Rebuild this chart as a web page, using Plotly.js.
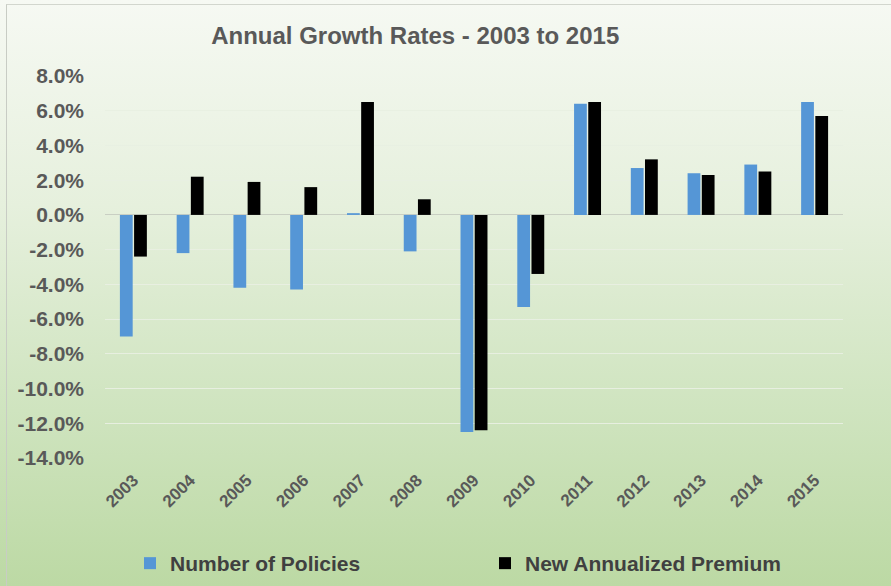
<!DOCTYPE html>
<html>
<head>
<meta charset="utf-8">
<script src="https://cdn.plot.ly/plotly-3.0.1.min.js"></script>
<style>
  html, body { margin: 0; padding: 0; }
  #wrap { position: relative; width: 891px; height: 586px;
          background: linear-gradient(to bottom, #f6f9f3 0%, #e6f0dd 35%, #cfe4bf 70%, #bcd9a4 100%); }
  #frame { position: absolute; left: 6px; top: 4px; right: 0; bottom: 0;
           border-left: 1px solid #c8ccc4; border-top: 1px solid #d2d6ce; pointer-events: none; }
  #chart { position: absolute; left: 0; top: 0; width: 891px; height: 586px; }
</style>
</head>
<body>
<div id="wrap"><div id="frame"></div><div id="chart"></div></div>
<script>
const years = ["2003","2004","2005","2006","2007","2008","2009","2010","2011","2012","2013","2014","2015"];
const numberOfPolicies = [-7.0, -2.2, -4.2, -4.3, 0.1, -2.1, -12.5, -5.3, 6.4, 2.7, 2.4, 2.9, 6.5];
const newAnnualizedPremium = [-2.4, 2.2, 1.9, 1.6, 6.5, 0.9, -12.4, -3.4, 6.5, 3.2, 2.3, 2.5, 5.7];
const yTickVals = [8, 6, 4, 2, 0, -2, -4, -6, -8, -10, -12, -14];
const yTickText = yTickVals.map(v => v.toFixed(1) + "%");

const traces = [
  { type: "bar", name: "Number of Policies", x: years, y: numberOfPolicies,
    marker: { color: "#5596d6" } },
  { type: "bar", name: "New Annualized Premium", x: years, y: newAnnualizedPremium,
    marker: { color: "#000000" } }
];

const layout = {
  width: 891, height: 586,
  paper_bgcolor: "rgba(0,0,0,0)", plot_bgcolor: "rgba(0,0,0,0)",
  margin: { l: 105, r: 48, t: 76, b: 128 },
  barmode: "group", bargap: 0.5, bargroupgap: 0.1,
  title: { text: "Annual Growth Rates - 2003 to 2015", x: 0.466, xanchor: "center",
           xref: "container", y: 1 - 36/586, yanchor: "middle", yref: "container",
           font: { family: "Liberation Sans, Arial, sans-serif", size: 24, color: "#595959", weight: "bold" } },
  xaxis: { type: "category", tickangle: -45, showgrid: false, zeroline: false, showline: false,
           ticks: "", ticklabelstandoff: 8,
           tickfont: { family: "Liberation Sans, Arial, sans-serif", size: 17, color: "#595959", weight: "bold" } },
  yaxis: { range: [-14, 8], tickvals: yTickVals, ticktext: yTickText, showgrid: true,
           gridcolor: "rgba(232,239,226,0.95)", gridwidth: 1, ticklabelstandoff: 20,
           zeroline: true, zerolinecolor: "#c9cfc3", zerolinewidth: 1, showline: false, ticks: "",
           tickfont: { family: "Liberation Sans, Arial, sans-serif", size: 21, color: "#595959", weight: "bold" } },
  showlegend: true,
  legend: { orientation: "h", x: 130/891, xref: "container", xanchor: "left",
            y: 1 - 543/586, yref: "container", yanchor: "top",
            entrywidth: 310, entrywidthmode: "pixels",
            font: { family: "Liberation Sans, Arial, sans-serif", size: 21, color: "#404040", weight: "bold" } }
};

Plotly.newPlot("chart", traces, layout, { displayModeBar: false, staticPlot: true });
</script>
</body>
</html>
